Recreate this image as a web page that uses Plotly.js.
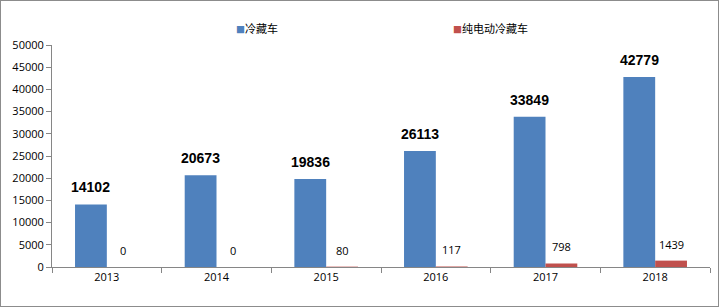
<!DOCTYPE html>
<html>
<head>
<meta charset="utf-8">
<script src="https://cdn.plot.ly/plotly-3.0.1.min.js"></script>
<style>
  html, body { margin: 0; padding: 0; background: #fff; }
  #chart { width: 717px; height: 305px; border: 1px solid #8c8c8c; }
</style>
</head>
<body>
<div id="chart"></div>
<script>
const categories = ['2013', '2014', '2015', '2016', '2017', '2018'];
const coldVals = [14102, 20673, 19836, 26113, 33849, 42779];
const evVals = [0, 0, 80, 117, 798, 1439];
const seriesNames = ['冷藏车', '纯电动冷藏车'];
const seriesColors = ['#4F81BD', '#C0504D'];

const baseFont = '"Open Sans", "Noto Sans CJK SC", sans-serif';
const axisColor = '#868686';

const traces = [
  { type: 'bar', name: seriesNames[0], x: categories, y: coldVals,
    marker: { color: seriesColors[0] }, showlegend: false, hoverinfo: 'skip' },
  { type: 'bar', name: seriesNames[1], x: categories, y: evVals,
    marker: { color: seriesColors[1] }, showlegend: false, hoverinfo: 'skip' }
];

const annotations = [];
categories.forEach((c, i) => {
  // on a category axis, the annotation x is the category index
  annotations.push({
    x: i, y: coldVals[i], xref: 'x', yref: 'y', xshift: -16, yshift: 7,
    yanchor: 'bottom', showarrow: false, text: String(coldVals[i]),
    font: { family: '"Liberation Sans", Arial, sans-serif', size: 14, color: '#000', weight: 'bold' }
  });
  annotations.push({
    x: i, y: evVals[i], xref: 'x', yref: 'y', xshift: 16, yshift: 7,
    yanchor: 'bottom', showarrow: false, text: String(evVals[i]),
    font: { family: baseFont, size: 11, color: '#000' }
  });
});

const plotH = 305 - 44 - 39;
const legendX = [0.277, 0.607];
seriesNames.forEach((n, i) => {
  annotations.push({
    x: legendX[i], y: 1 + (44 - 27) / plotH, xref: 'paper', yref: 'paper',
    xanchor: 'left', yanchor: 'middle', showarrow: false,
    text: '<span style="color:' + seriesColors[i] + ';font-size:9px">■</span>' + n,
    font: { family: '"Noto Sans CJK SC", sans-serif', size: 11, color: '#000' }
  });
});

const layout = {
  width: 717, height: 305,
  margin: { l: 51, r: 8, t: 44, b: 39 },
  paper_bgcolor: '#fff', plot_bgcolor: '#fff',
  font: { family: baseFont, size: 11, color: '#000' },
  barmode: 'group', bargap: 0.42, bargroupgap: 0,
  xaxis: {
    type: 'category', showline: true, linecolor: axisColor, linewidth: 1,
    ticks: 'outside', tickson: 'boundaries', ticklen: 5, tickcolor: axisColor,
    showgrid: false, zeroline: false, tickfont: { size: 11 }
  },
  yaxis: {
    range: [0, 50000], dtick: 5000, tickformat: 'd', showgrid: false, zeroline: false,
    showline: true, linecolor: axisColor, linewidth: 1, ticks: 'outside', ticklen: 5,
    tickcolor: axisColor, tickfont: { size: 11 }
  },
  annotations: annotations
};

Plotly.newPlot('chart', traces, layout, { displayModeBar: false, staticPlot: true });
</script>
</body>
</html>
